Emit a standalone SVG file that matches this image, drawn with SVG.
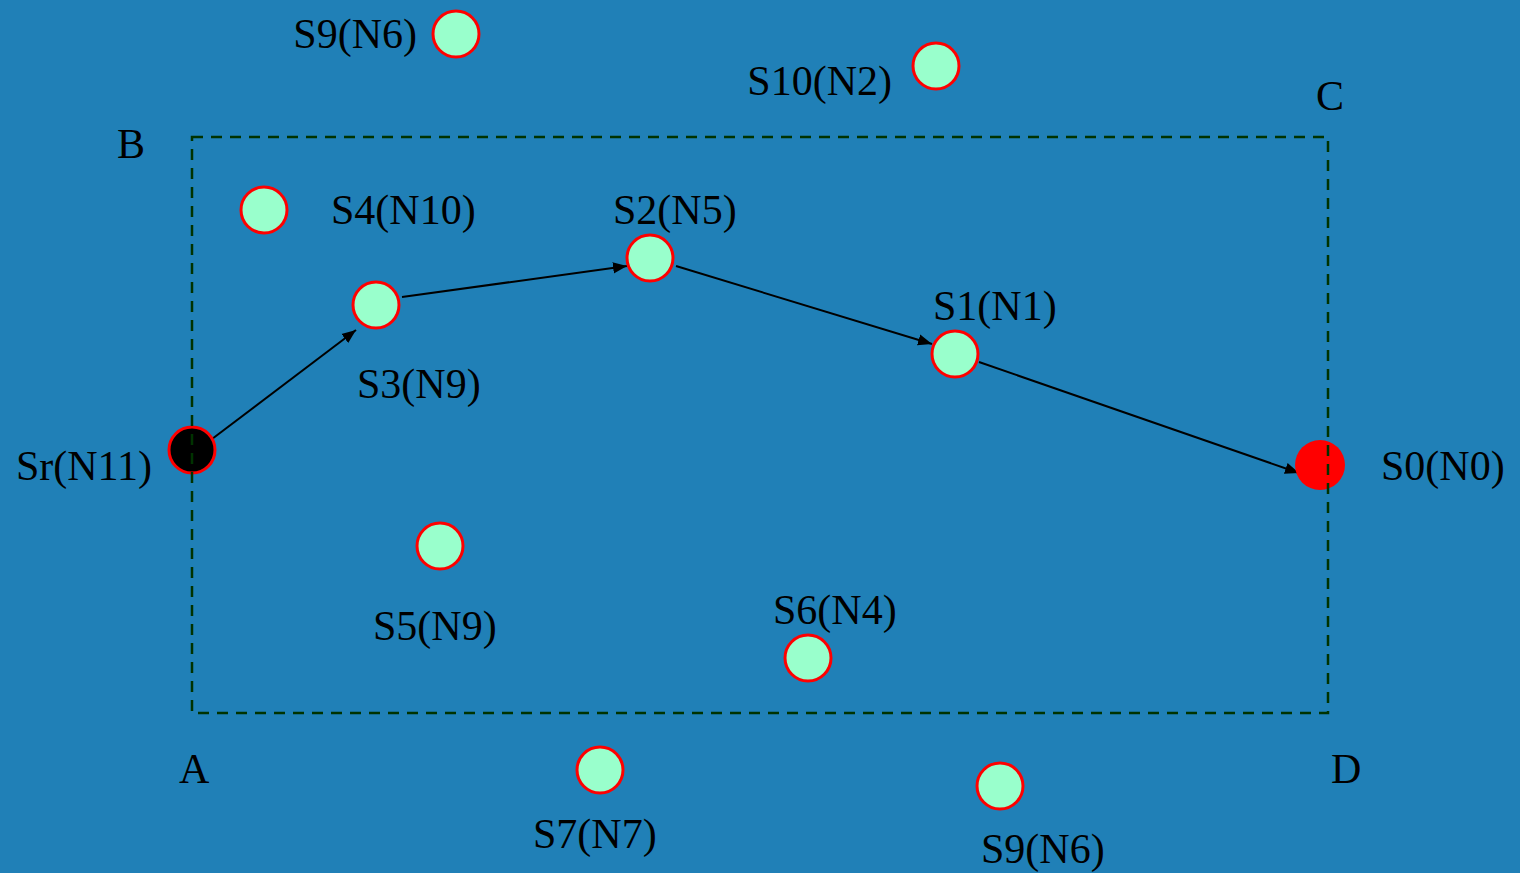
<svg xmlns="http://www.w3.org/2000/svg" width="1520" height="873" viewBox="0 0 1520 873">
<defs>
<style>
.bg{fill:#2080B7}
.n{fill:#99FFCC;stroke:#FF0000;stroke-width:3}
.t{font-family:"Liberation Serif",serif;font-size:42px;fill:#000}
.e{stroke:#000;stroke-width:2;fill:none;marker-end:url(#ah)}
.box{fill:none;stroke:#003300;stroke-width:2.5;stroke-dasharray:11 8}
</style>
<marker id="ah" viewBox="0 0 10 10" refX="10" refY="5" markerWidth="7" markerHeight="7" orient="auto" markerUnits="strokeWidth">
<path d="M0,1 L10,5 L0,9 z" fill="#000"/>
</marker>
</defs>
<rect class="bg" x="0" y="0" width="1520" height="873"/>
<g id="corners">
<text class="t" x="117" y="158">B</text>
<text class="t" x="1316" y="110">C</text>
<text class="t" x="179" y="783">A</text>
<text class="t" x="1331" y="783">D</text>
</g>
<g id="connectors">
<line class="e" x1="212" y1="439" x2="356" y2="330"/>
<line class="e" x1="402" y1="297" x2="627" y2="266"/>
<line class="e" x1="676" y1="266" x2="932" y2="344"/>
<line class="e" x1="979" y1="362" x2="1299" y2="473"/>
</g>
<g id="S9top"><circle class="n" cx="456" cy="34" r="23"/><text class="t" x="417" y="48" text-anchor="end">S9(N6)</text></g>
<g id="S10"><circle class="n" cx="936" cy="66" r="23"/><text class="t" x="892" y="95" text-anchor="end">S10(N2)</text></g>
<g id="S4"><circle class="n" cx="264" cy="210" r="23"/><text class="t" x="331" y="224">S4(N10)</text></g>
<g id="S2"><circle class="n" cx="650" cy="258" r="23"/><text class="t" x="613" y="224">S2(N5)</text></g>
<g id="S3"><circle class="n" cx="376" cy="305" r="23"/><text class="t" x="357" y="398">S3(N9)</text></g>
<g id="S1"><circle class="n" cx="955" cy="354" r="23"/><text class="t" x="933" y="320">S1(N1)</text></g>
<g id="Sr"><circle cx="192" cy="450" r="23" fill="#000" stroke="#FF0000" stroke-width="3"/><text class="t" x="152" y="480" text-anchor="end">Sr(N11)</text></g>
<g id="S0"><circle cx="1320" cy="465" r="25" fill="#FF0000"/><text class="t" x="1381" y="480">S0(N0)</text></g>
<g id="S5"><circle class="n" cx="440" cy="546" r="23"/><text class="t" x="373" y="640">S5(N9)</text></g>
<g id="S6"><circle class="n" cx="808" cy="658" r="23"/><text class="t" x="773" y="624">S6(N4)</text></g>
<g id="S7"><circle class="n" cx="600" cy="770" r="23"/><text class="t" x="533" y="848">S7(N7)</text></g>
<g id="S9bot"><circle class="n" cx="1000" cy="786" r="23"/><text class="t" x="981" y="863">S9(N6)</text></g>
<rect class="box" x="192" y="137" width="1136" height="576"/>
</svg>
